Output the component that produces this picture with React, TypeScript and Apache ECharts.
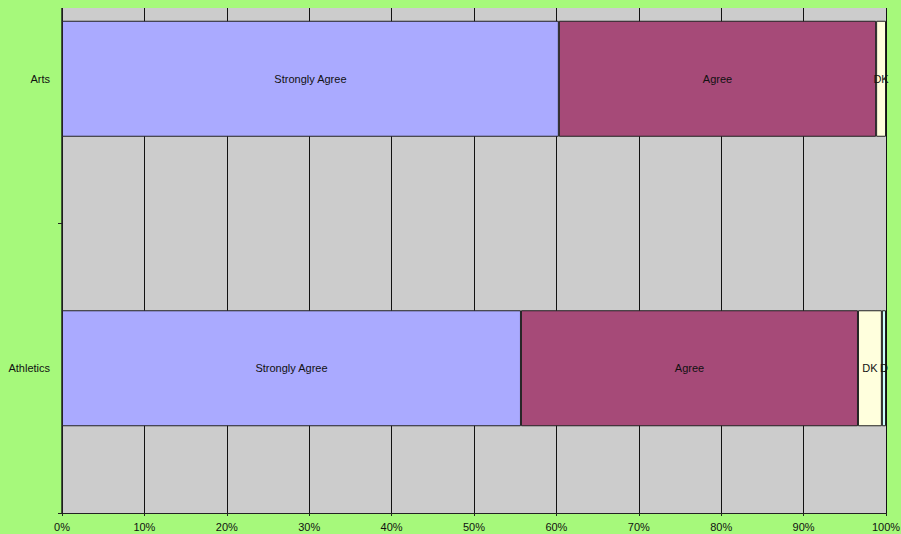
import React, { useEffect, useRef } from "react";
import * as echarts from "echarts";

const categories = ["Arts", "Athletics"];
const stronglyAgree = [60.3, 55.7];
const agree = [38.5, 40.9];
const dk = [1.2, 2.9];
const disagree = [null, 0.5];
const seriesNames = ["Strongly Agree", "Agree", "DK", "D"];
const xTicks = [0, 10, 20, 30, 40, 50, 60, 70, 80, 90, 100];

const FONT = "'Liberation Sans', Arial, sans-serif";
const GREEN = "#a6f97b";

export default function App() {
  const ref = useRef<HTMLDivElement>(null);
  useEffect(() => {
    document.body.style.margin = "0";
    document.body.style.background = GREEN;
    document.body.style.overflow = "hidden";
    const chart = echarts.init(ref.current!, null, { renderer: "svg" });
    const colors = ["#aaaaff", "#a64a78", "#ffffdd", "#ccffff"];
    const datas = [stronglyAgree, agree, dk, disagree];
    chart.setOption({
      animation: false,
      backgroundColor: "transparent",
      textStyle: { fontFamily: FONT },
      grid: {
        left: 62,
        right: 15,
        top: 0,
        bottom: 21,
        containLabel: false,
        outerBoundsMode: "none",
        show: true,
        backgroundColor: "#cccccc",
        borderWidth: 0,
      },
      xAxis: {
        type: "value",
        min: xTicks[0],
        max: xTicks[xTicks.length - 1],
        interval: 10,
        axisLine: { show: true, lineStyle: { color: "#222", width: 1 } },
        axisTick: { show: true, length: 3, lineStyle: { color: "#222" } },
        axisLabel: {
          formatter: "{value}%",
          color: "#111",
          fontSize: 11,
          fontFamily: FONT,
          margin: 8,
        },
        splitLine: { show: true, lineStyle: { color: "#111", width: 1 } },
      },
      yAxis: {
        type: "category",
        data: categories,
        inverse: true,
        axisLine: { show: true, lineStyle: { color: "#222", width: 1.5 } },
        axisTick: { show: true, length: 4, lineStyle: { color: "#222" } },
        axisLabel: { color: "#111", fontSize: 11, fontFamily: FONT, margin: 12 },
        splitLine: { show: false },
      },
      series: seriesNames.map((name, i) => ({
        name,
        type: "bar",
        stack: "total",
        barWidth: 116,
        data: datas[i],
        itemStyle: { color: colors[i], borderColor: "#222", borderWidth: 1 },
        label: {
          show: true,
          position: "inside",
          formatter: name,
          color: "#111",
          fontSize: 11,
          fontFamily: FONT,
        },
        labelLayout: { hideOverlap: false },
      })),
    });
    return () => chart.dispose();
  }, []);
  return (
    <div style={{ width: 901, height: 534, background: GREEN, position: "relative", overflow: "hidden" }}>
      <div ref={ref} style={{ position: "absolute", left: 0, top: -66, width: 901, height: 600 }} />
      <div style={{ position: "absolute", left: 0, top: 0, width: 901, height: 8, background: GREEN, zIndex: 2 }} />
    </div>
  );
}
